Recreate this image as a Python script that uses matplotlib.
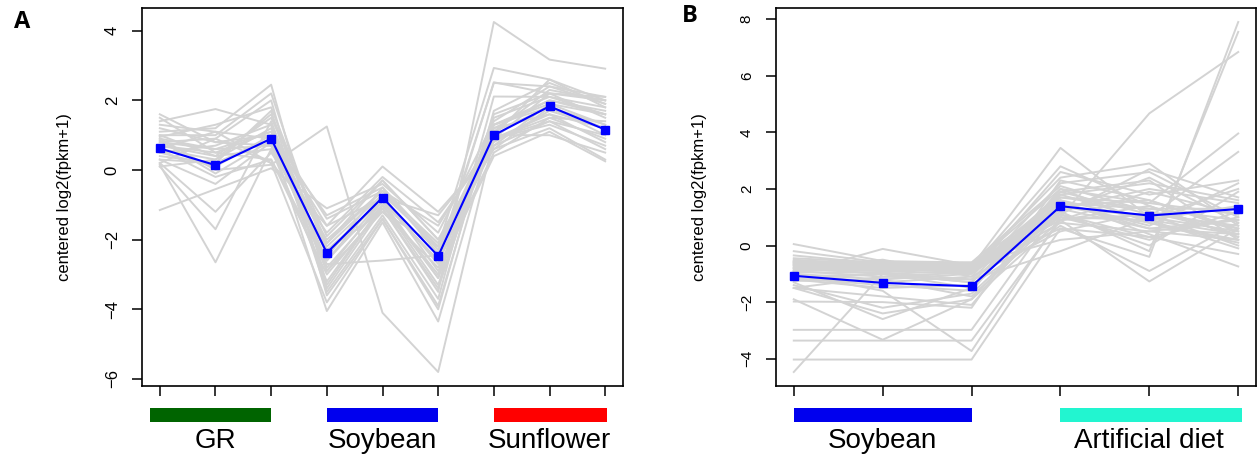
"""
Expression profiles of two gene clusters (grey = genes, blue = cluster mean).
"""
import matplotlib.pyplot as plt
import matplotlib.transforms as mtransforms
from matplotlib.patches import Rectangle

plt.rcParams["font.family"] = ["Liberation Sans", "DejaVu Sans"]

# ---- panel A: GR x3, Soybean x3, Sunflower x3 ----
A_GROUPS = ["GR", "Soybean", "Sunflower"]
A_GROUP_SIZES = [3, 3, 3]
A_MEAN = [0.62, 0.14, 0.90, -2.38, -0.79, -2.47, 1.00, 1.83, 1.16]
A_GENES = [
    [0.9, 0.6, 1.1, -2.1, -0.6, -2.3, 0.9, 1.6, 1.2],
    [1.6, 0.8, 1.0, -2.6, -0.9, -2.6, 0.7, 1.9, 1.3],
    [1.4, 1.75, 1.3, -2.9, -1.2, -2.8, 0.5, 1.5, 0.9],
    [1.1, 1.2, 2.45, -3.3, -1.0, -3.0, 1.3, 1.8, 1.0],
    [1.0, 1.0, 2.2, -2.5, -0.5, -2.4, 1.1, 2.3, 2.0],
    [0.8, 0.9, 2.0, -3.6, -1.4, -3.9, 1.5, 2.1, 1.6],
    [0.7, 0.4, 1.5, -1.9, -0.3, -2.0, 0.9, 1.4, 1.0],
    [0.6, 0.3, 1.2, -2.2, -0.7, -2.2, 1.2, 2.0, 1.7],
    [0.5, 0.1, 1.0, -1.6, 0.1, -1.2, 0.6, 1.2, 0.3],
    [0.3, -0.4, 0.8, -2.4, -0.8, -2.7, 1.0, 2.6, 1.8],
    [0.2, -1.2, 0.5, -1.8, -0.2, -1.5, 0.8, 1.7, 1.2],
    [0.1, -1.7, 1.4, -2.8, -1.0, -3.3, 1.3, 1.9, 1.6],
    [0.15, -2.65, 0.6, -2.0, -0.6, -2.1, 0.9, 1.5, 1.4],
    [-1.15, -0.55, 0.05, -1.1, -0.4, -1.8, 1.4, 2.4, 1.9],
    [0.9, 0.0, 0.15, 1.25, -4.1, -5.8, 0.9, 2.2, 2.0],
    [0.7, 0.5, 0.3, -2.7, -2.6, -2.45, 2.5, 2.4, 2.1],
    [1.3, 1.1, 0.9, -4.05, -1.5, -4.35, 1.2, 1.6, 0.8],
    [0.6, -0.2, 0.3, -3.0, -1.1, -3.5, 4.25, 3.17, 2.91],
    [0.4, 0.2, 0.9, -1.3, -0.5, -2.2, 2.93, 2.6, 2.0],
    [0.8, 0.6, 0.7, -2.3, -0.9, -2.6, 2.52, 2.2, 2.1],
    [0.5, 0.7, 1.3, -3.5, -1.3, -3.7, 2.11, 2.1, 1.8],
    [1.2, 0.8, 0.7, -2.6, -0.7, -2.9, 0.4, 1.1, 0.25],
    [0.2, 0.9, 0.2, -1.6, -0.8, -1.3, 0.7, 1.4, 0.6],
    [1.0, 0.4, 0.6, -3.2, -1.0, -3.1, 1.6, 2.2, 1.5],
    [0.95, 1.3, 1.8, -2.3, -1.2, -2.2, 0.9, 1.3, 0.7],
    [0.1, 0.3, 1.6, -2.1, -0.3, -2.0, 0.6, 1.8, 1.2],
    [0.6, 1.1, 0.2, -3.8, -1.4, -4.0, 1.7, 2.5, 1.9],
    [1.5, 0.5, 1.1, -1.4, -0.6, -1.6, 1.0, 1.0, 0.5],
    [0.85, -0.1, 0.85, -2.9, -0.9, -3.1, 1.1, 1.8, 1.3],
    [0.3, 0.2, 1.7, -3.4, -1.1, -3.4, 1.3, 2.0, 1.6],
]

# ---- panel B: Soybean x3, Artificial diet x3 ----
B_GROUPS = ["Soybean", "Artificial diet"]
B_GROUP_SIZES = [3, 3]
B_MEAN = [-1.07, -1.32, -1.44, 1.39, 1.06, 1.29]
B_GENES = [
    [0.05, -0.55, -0.6, 1.1, 0.3, -0.3],
    [-0.2, -0.6, -0.65, 1.6, 0.9, -0.1],
    [-0.35, -0.65, -0.6, 2.1, 1.2, 0.4],
    [-0.45, -0.6, -0.7, 1.3, 0.6, 0.9],
    [-0.5, -0.7, -0.65, 0.9, 1.4, 0.3],
    [-0.55, -0.75, -0.8, 2.4, 2.9, 0.7],
    [-0.6, -0.65, -0.75, 3.45, 1.0, 0.5],
    [-0.6, -0.8, -0.7, 1.0, 0.2, 1.2],
    [-0.65, -0.7, -0.85, 1.8, 2.2, 1.6],
    [-0.7, -0.85, -0.9, 1.5, 0.7, 2.2],
    [-0.7, -0.75, -0.8, 0.6, -0.4, 7.9],
    [-0.75, -0.9, -0.8, 1.2, -0.2, 7.55],
    [-0.8, -0.8, -0.95, 1.0, 4.67, 6.84],
    [-0.8, -1.0, -0.9, 1.7, 1.5, 3.96],
    [-0.85, -0.9, -1.0, 1.4, 1.0, 3.31],
    [-0.9, -0.5, -1.1, 2.2, 2.6, 1.0],
    [-0.9, -1.1, -0.95, 0.8, 0.5, 0.2],
    [-0.95, -0.95, -1.2, 1.9, 1.1, 0.0],
    [-1.0, -1.2, -1.0, 2.6, 1.8, 2.3],
    [-1.0, -0.12, -0.7, 1.3, 2.0, 1.5],
    [-1.05, -1.3, -1.1, 0.5, 1.2, 0.6],
    [-1.1, -1.0, -1.3, 1.6, 0.4, -0.74],
    [-1.15, -1.4, -1.6, 2.0, 1.5, 1.1],
    [-1.2, -1.5, -1.4, 0.7, -0.9, 0.8],
    [-1.25, -1.2, -1.8, 1.1, 0.0, 1.9],
    [-1.3, -2.6, -1.5, 1.8, 0.9, 0.4],
    [-1.4, -2.2, -1.7, 1.2, 2.4, 0.8],
    [-1.5, -1.8, -2.1, 1.5, 1.3, 1.3],
    [-1.5, -2.4, -1.9, 0.9, -1.27, 0.6],
    [-1.98, -2.0, -2.2, 2.3, 1.6, 0.5],
    [-2.98, -2.98, -2.98, 1.4, 0.8, 0.2],
    [-3.36, -3.36, -3.36, 0.9, 1.1, 0.7],
    [-4.03, -4.03, -4.03, 0.6, 0.3, 1.0],
    [-1.9, -3.33, -1.9, 1.5, 0.6, 0.4],
    [-1.0, -1.6, -3.73, 1.0, 0.9, 1.4],
    [-4.47, -1.0, -1.3, 1.7, 1.3, 0.9],
    [-0.6, -0.7, -0.7, 2.0, 0.8, 0.1],
    [-0.65, -0.65, -0.7, 1.4, 1.6, 0.6],
    [-0.7, -0.7, -0.75, 0.9, 1.9, 1.1],
    [-0.8, -0.85, -0.8, 2.8, 1.4, 0.3],
    [-0.9, -0.8, -0.9, 1.1, 2.7, 1.7],
    [-0.55, -0.6, -0.65, 0.2, 0.5, 0.9],
    [-1.5, -1.1, -1.2, -0.2, 1.0, 2.0],
    [-1.2, -1.0, -1.5, 1.9, 2.3, 0.2],
]

GREY = "#d3d3d3"
MEAN_COLOR = "#0000ff"
A_BAR_COLORS = ["#006400", "#0000ee", "#ff0000"]
B_BAR_COLORS = ["#0000ee", "#22f5d0"]


def r_limits(values, frac=0.04):
    lo, hi = min(values), max(values)
    pad = (hi - lo) * frac
    return lo - pad, hi + pad


def draw_panel(ax, genes, mean, groups, sizes, bar_colors, yticks, tick_size, left_pad=0.0):
    x = list(range(1, len(mean) + 1))
    for row in genes:
        ax.plot(x, row, color=GREY, lw=1.4, zorder=1)
    ax.plot(x, mean, color=MEAN_COLOR, lw=1.5, marker="s", ms=6, zorder=3)

    ax.set_xlim(*r_limits(x))
    ax.set_ylim(*r_limits([v for row in genes for v in row] + mean))
    ax.set_xticks(x)
    ax.set_xticklabels([])
    ax.set_yticks(yticks)
    ax.set_yticklabels([f"{t}".replace("-", "\u2212") for t in yticks],
                       rotation=90, va="center", fontsize=tick_size)
    ax.tick_params(direction="out", length=7, width=1.1, pad=9)
    for sp in ax.spines.values():
        sp.set_linewidth(1.2)
    ax.set_ylabel("centered log2(fpkm+1)", fontsize=12)

    # coloured group bars under the axis
    trans = mtransforms.blended_transform_factory(ax.transData, ax.transAxes)
    start = 1
    for i, (name, n, col) in enumerate(zip(groups, sizes, bar_colors)):
        x0 = start - (left_pad if i == 0 else 0.0)
        x1 = start + n - 1 + (0.04 if i == len(groups) - 1 else 0.0)
        ax.add_patch(Rectangle((x0, -0.095), x1 - x0, 0.038, transform=trans,
                               color=col, clip_on=False, lw=0))
        ax.text((start + start + n - 1) / 2, -0.145, name, transform=trans,
                ha="center", va="center", fontsize=20)
        start += n


fig = plt.figure(figsize=(12.57, 4.59), dpi=100)
ax_a = fig.add_axes([142 / 1257, 73 / 459, 481 / 1257, 378 / 459])
ax_b = fig.add_axes([776 / 1257, 73 / 459, 480 / 1257, 378 / 459])

draw_panel(ax_a, A_GENES, A_MEAN, A_GROUPS, A_GROUP_SIZES, A_BAR_COLORS,
           [-6, -4, -2, 0, 2, 4], 12, left_pad=0.18)
draw_panel(ax_b, B_GENES, B_MEAN, B_GROUPS, B_GROUP_SIZES, B_BAR_COLORS,
           [-4, -2, 0, 2, 4, 6, 8], 11)
ax_a.yaxis.set_label_coords(-0.145, 0.5)
ax_b.yaxis.set_label_coords(-0.144, 0.5)

fig.text(22 / 1257, 1 - 22 / 459, "A", fontsize=17, fontweight="bold",
         family=["Open Sans", "DejaVu Sans"], ha="center", va="center")
fig.text(690 / 1257, 1 - 16 / 459, "B", fontsize=17, fontweight="bold",
         family=["Open Sans", "DejaVu Sans"], ha="center", va="center")

fig.savefig("out.png", dpi=100)
plt.close(fig)
